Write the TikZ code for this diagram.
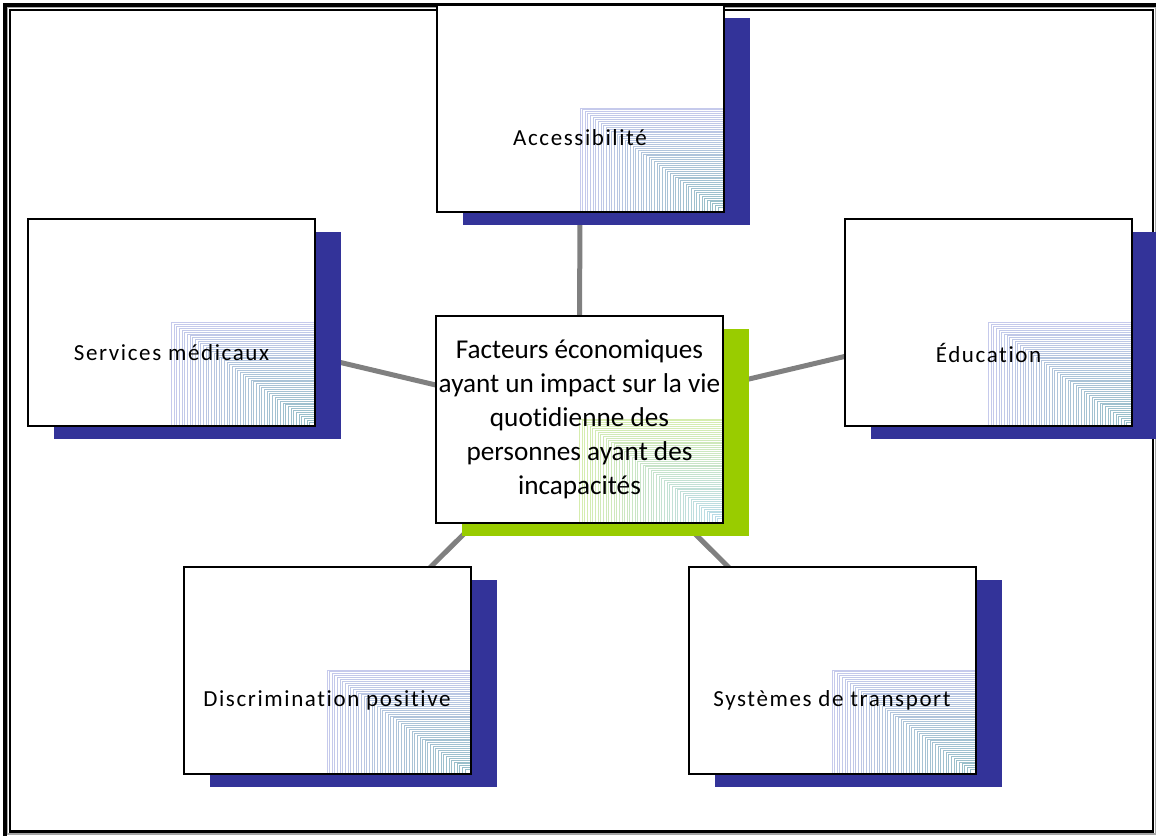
\documentclass[tikz,border=0pt]{standalone}
\usepackage{fontspec}
\setmainfont{Carlito}[Ligatures={NoCommon}]
\usepackage{tikz}
\usetikzlibrary{calc, shadows, backgrounds}

\definecolor{shadowblue}{HTML}{333399}
\definecolor{shadowgreen}{HTML}{99CC00}
\definecolor{linkgray}{HTML}{808080}
\definecolor{lineslav}{HTML}{C6CAEC}
\definecolor{linesteal}{HTML}{96BEC8}
\definecolor{linesgreen}{HTML}{D6EDAE}
\definecolor{linessky}{HTML}{B8DAE8}

\tikzset{
  cornerlines/.style 2 args={path picture={
      \foreach \i in {0,...,52}{
        \pgfmathsetmacro{\mix}{100-\i*100/52}
        \draw[#1!\mix!#2, line width=0.5pt]
          let \p1=(path picture bounding box.center),
              \p2=(path picture bounding box.south east) in
          ({\x1+\i*(\x2-\x1)/54},\y2) |- (\x2,{\y1-\i*(\y1-\y2)/54});
      }}},
  card/.style={rectangle, draw=black, line width=1pt, fill=white,
      minimum width=143.5pt, minimum height=103.5pt, inner sep=0pt},
  topic/.style={card,
      drop shadow={shadow xshift=13pt, shadow yshift=-6.5pt, fill=shadowblue, opacity=1},
      cornerlines={lineslav}{linesteal}},
  hub/.style={card, align=center,
      font=\fontsize{13.6}{17}\selectfont,
      drop shadow={shadow xshift=13pt, shadow yshift=-6.5pt, fill=shadowgreen, opacity=1},
      cornerlines={linesgreen}{linessky}},
  tag/.style={font=\fontsize{11.5}{14}\selectfont\addfontfeatures{LetterSpace=7}, yshift=-15pt},
  link/.style={draw=linkgray, line width=2.5pt},
}

\begin{document}
\begin{tikzpicture}[x=0.5pt, y=-0.5pt]
  \useasboundingbox (0,0) rectangle (1156,835);
  % double frame
  \draw[line width=2pt] (4.7,4.7) rectangle (1160,840);
  \draw[gray!70, line width=0.6pt] (7.5,7.5) rectangle (1155.5,834);
  \draw[line width=1.2pt] (9.8,9.8) rectangle (1153,831.5);

  \node[hub] (eco) at (579.5,419) {Facteurs économiques\\ ayant un impact sur la vie\\ quotidienne des\\ personnes ayant des\\ incapacités};
  \node[topic, label={[tag]center:Accessibilité}] (acc) at (580,108) {};
  \node[topic, label={[tag]center:Services médicaux}] (med) at (171.5,322.5) {};
  \node[topic, label={[tag]center:Éducation}] (edu) at (988.5,322.5) {};
  \node[topic, label={[tag]center:Discrimination positive}] (dis) at (327,670) {};
  \node[topic, label={[tag]center:Systèmes de transport}] (tra) at (832,670) {};

  \begin{pgfonlayer}{background}
    \foreach \t in {acc,med,edu,dis,tra}
      \draw[link] (eco.center) -- (\t.center);
  \end{pgfonlayer}
\end{tikzpicture}
\end{document}
